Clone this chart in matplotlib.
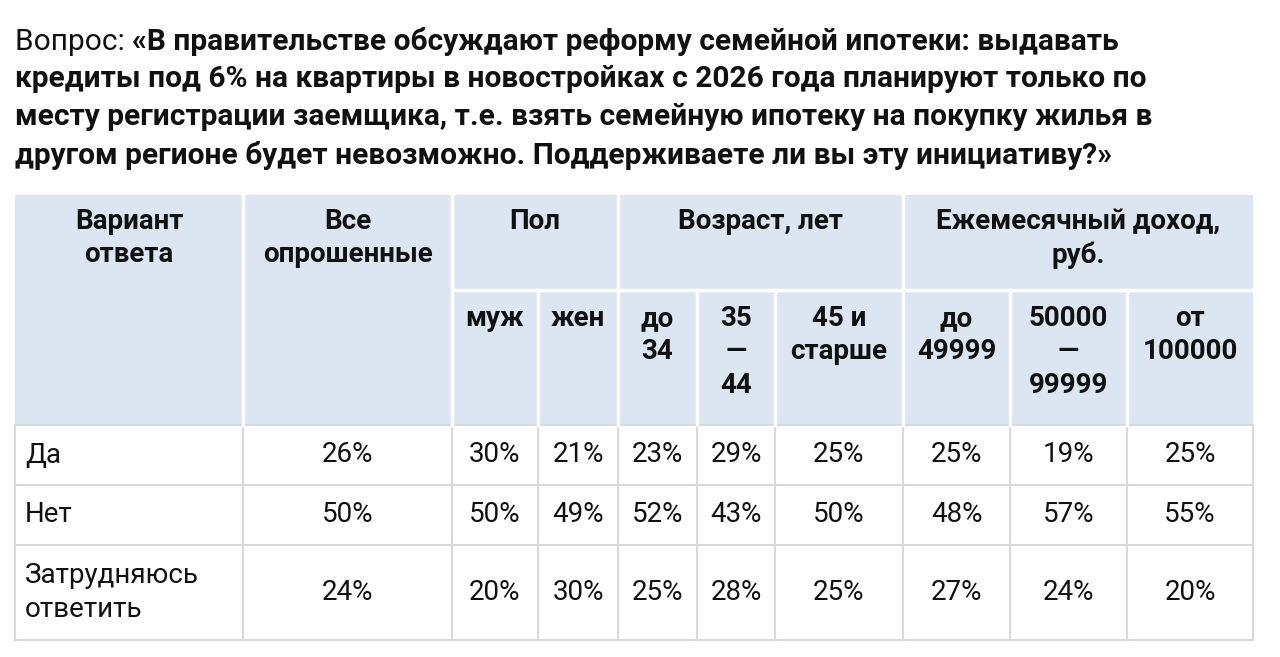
import matplotlib.pyplot as plt
from matplotlib.patches import Rectangle

plt.rcParams['font.family'] = 'Roboto'

question_prefix = "Вопрос: "
question_lines = [
    "«В правительстве обсуждают реформу семейной ипотеки: выдавать",
    "кредиты под 6% на квартиры в новостройках с 2026 года планируют только по",
    "месту регистрации заемщика, т.е. взять семейную ипотеку на покупку жилья в",
    "другом регионе будет невозможно. Поддерживаете ли вы эту инициативу?»",
]
groups = ["Вариант\nответа", "Все\nопрошенные", "Пол", "Возраст, лет", "Ежемесячный доход,\nруб."]
subcols = ["муж", "жен", "до\n34", "35\n—\n44", "45 и\nстарше", "до\n49999", "50000\n—\n99999", "от\n100000"]
answers = ["Да", "Нет", "Затрудняюсь\nответить"]
values = [
    [26, 30, 21, 23, 29, 25, 25, 19, 25],
    [50, 50, 49, 52, 43, 50, 48, 57, 55],
    [24, 20, 30, 25, 28, 25, 27, 24, 20],
]

xs = [15, 243, 452, 538, 618, 697, 775, 903, 1010, 1127, 1253]
ys = [195, 290, 425, 485, 545, 640]
head_bg = '#dce6f2'
fs = 20

fig = plt.figure(figsize=(12.8, 6.57), dpi=100)
ax = fig.add_axes([0, 0, 1, 1])
ax.set_xlim(0, 1280)
ax.set_ylim(657, 0)
ax.axis('off')

# question
qfs = 21.5
t = ax.text(15, 42, question_prefix, fontsize=qfs, va='center', ha='left', color='#111111')
fig.canvas.draw()
bb = t.get_window_extent().transformed(ax.transData.inverted())
ax.text(bb.x1, 42, question_lines[0], fontsize=qfs, fontweight='bold', va='center', ha='left', color='#111111')
for i, line in enumerate(question_lines[1:]):
    ax.text(15, 79 + 38 * i, line, fontsize=qfs, fontweight='bold', va='center', ha='left', color='#111111')

# header background
ax.add_patch(Rectangle((xs[0], ys[0]), xs[-1] - xs[0], ys[2] - ys[0], color=head_bg, lw=0))
# body borders
grid = '#d9d9d9'
for y in ys[2:]:
    ax.plot([xs[0], xs[-1]], [y, y], color=grid, lw=1.5)
for x in xs:
    ax.plot([x, x], [ys[2], ys[-1]], color=grid, lw=1.5)
# header white lines
for x in [xs[1], xs[2], xs[4], xs[7]]:
    ax.plot([x, x], [ys[0], ys[2]], color='white', lw=2.5)
for x in [xs[3], xs[5], xs[6], xs[8], xs[9]]:
    ax.plot([x, x], [ys[1], ys[2]], color='white', lw=2.5)
ax.plot([xs[2], xs[-1]], [ys[1], ys[1]], color='white', lw=2.5)

# group headers
spans = [(0, 1), (1, 2), (2, 4), (4, 7), (7, 10)]
for label, (a, b) in zip(groups, spans):
    ax.text((xs[a] + xs[b]) / 2, 208, label, fontsize=fs, fontweight='bold', ha='center', va='top',
            linespacing=1.3, color='#111111')
for i, label in enumerate(subcols):
    ax.text((xs[i + 2] + xs[i + 3]) / 2, 305, label, fontsize=fs, fontweight='bold', ha='center', va='top',
            linespacing=1.3, color='#111111')

# body
for r, ans in enumerate(answers):
    yc = (ys[r + 2] + ys[r + 3]) / 2
    ax.text(25, yc, ans, fontsize=fs, ha='left', va='center', linespacing=1.3, color='#111111')
    for c, v in enumerate(values[r]):
        ax.text((xs[c + 1] + xs[c + 2]) / 2, yc, f"{v}%", fontsize=fs, ha='center', va='center', color='#111111')

fig.savefig('out.png', dpi=100, facecolor='white')
